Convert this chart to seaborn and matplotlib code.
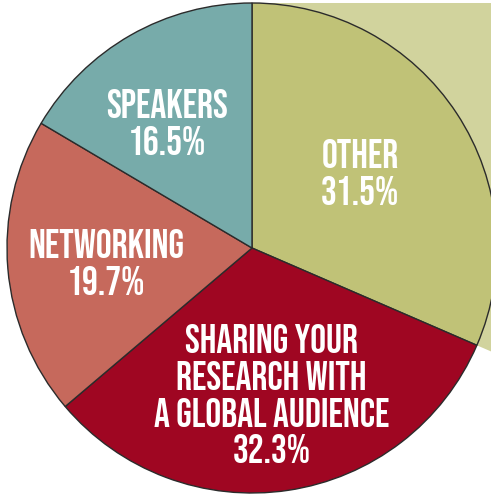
"""
Pie chart: what attendees value most (recreated from reference image).
"""

import numpy as np
import matplotlib
matplotlib.use("Agg")
import matplotlib.pyplot as plt
from matplotlib.patches import Wedge, Rectangle
import seaborn as sns

# ---------------------------------------------------------------------------
# Data
# ---------------------------------------------------------------------------
categories = ["OTHER", "SHARING YOUR\nRESEARCH WITH\nA GLOBAL AUDIENCE", "NETWORKING", "SPEAKERS"]
shares = [31.5, 32.3, 19.7, 16.5]
colors = ["#c0c277", "#9f0622", "#c6695c", "#77abaa"]
backdrop_color = "#d1d39d"

sns.set_theme(style="white")
plt.rcParams["font.family"] = ["Bebas Neue", "DejaVu Sans"]

# ---------------------------------------------------------------------------
# Figure: axes fill the canvas, pie centre sits at pixel (252, 248), r = 245 px
# ---------------------------------------------------------------------------
W, H, R = 491, 494, 245.0
cx, cy = 252, 248
fig = plt.figure(figsize=(W / 100, H / 100), dpi=100)
ax = fig.add_axes([0, 0, 1, 1])

wedges, _ = ax.pie(
    shares,
    colors=colors,
    startangle=90,
    counterclock=False,
    radius=1.0,
    wedgeprops=dict(edgecolor="#2b2b2b", linewidth=1.0),
)
ax.set_aspect("auto")
ax.set_xlim(-cx / R, (W - cx) / R)
ax.set_ylim(-(H - cy) / R, cy / R)
ax.axis("off")

# light backdrop behind the OTHER slice, same angles, larger radius
other = wedges[0]
back = Wedge((0, 0), 3.0, other.theta1, other.theta2, facecolor=backdrop_color,
             edgecolor="none", zorder=0)
ax.add_patch(back)
back.set_clip_path(Rectangle((0, -3), 3, 4.0, transform=ax.transData))

# labels inside the slices
label_r = [0.539, 0.600, 0.599, 0.620]
label_nudge = [1.8, -0.9, 0.6, 4.3]
for w, cat, val, r, nd in zip(wedges, categories, shares, label_r, label_nudge):
    ang = np.deg2rad((w.theta1 + w.theta2) / 2 + nd)
    ax.text(r * np.cos(ang), r * np.sin(ang), f"{cat}\n{val:.1f}%",
            ha="center", va="center", color="white", fontsize=28.5,
            linespacing=1.27)

plt.savefig("out.png", dpi=100)
plt.close()
